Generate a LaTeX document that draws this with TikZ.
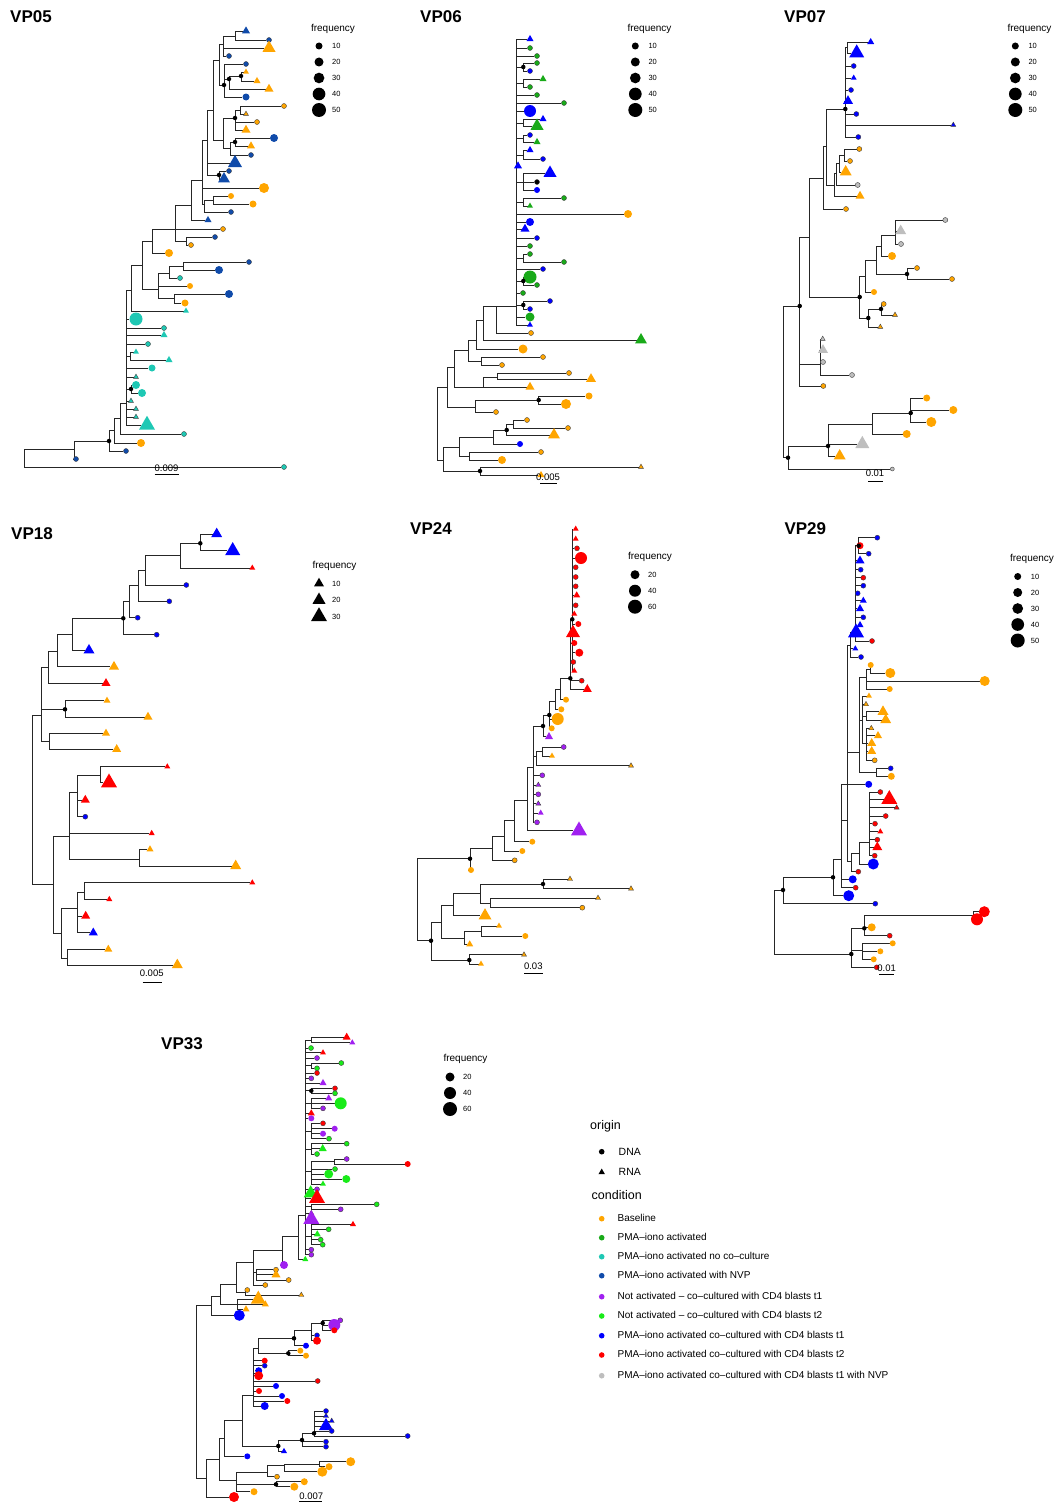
\documentclass[tikz,border=0pt]{standalone}
\usepackage{fontspec}
\setmainfont{Liberation Sans}
\usetikzlibrary{shapes.geometric,backgrounds}
\definecolor{cB}{RGB}{255,165,0}
\definecolor{cP}{RGB}{25,170,25}
\definecolor{cT}{RGB}{30,200,180}
\definecolor{cN}{RGB}{16,75,170}
\definecolor{cU}{RGB}{160,32,240}
\definecolor{cG}{RGB}{25,235,25}
\definecolor{cL}{RGB}{0,0,255}
\definecolor{cR}{RGB}{255,0,0}
\definecolor{cY}{RGB}{190,190,190}
\definecolor{cK}{RGB}{0,0,0}
\begin{document}
\begin{tikzpicture}[x=1pt,y=-1pt,
  br/.style={draw=black!85,line width=0.8pt},
  dna/.code={\pgfkeysalso{circle,inner sep=0pt,minimum size=#1pt}\ifdim#1pt<5.5pt\pgfkeysalso{draw=black!75,line width=0.4pt}\fi},
  rna/.code={\pgfkeysalso{regular polygon,regular polygon sides=3,inner sep=0pt,minimum size=1.155*#1pt}\ifdim#1pt<5.5pt\pgfkeysalso{draw=black!75,line width=0.4pt}\fi},
  bs/.style={circle,fill=black,inner sep=0pt,minimum size=4.5pt},
  ttl/.style={font=\bfseries\fontsize{17}{20}\selectfont,anchor=west,inner sep=0pt},
  lgt/.style={font=\fontsize{10}{12}\selectfont,anchor=mid,inner sep=0pt},
  lgn/.style={font=\fontsize{7.5}{9}\selectfont,anchor=west,inner sep=0pt},
  sct/.style={font=\fontsize{9.5}{11}\selectfont,inner sep=0pt},
  sbar/.style={draw=black,line width=0.8pt},
  lgh/.style={font=\fontsize{12.5}{15}\selectfont,anchor=mid west,inner sep=0pt},
  lgo/.style={font=\fontsize{10.5}{13}\selectfont,anchor=west,inner sep=0pt},
  lgc/.style={font=\fontsize{10}{12}\selectfont,anchor=mid west,inner sep=0pt}]
\useasboundingbox (0,0) rectangle (1058,1504);

\node[ttl] (ta) at (10,16.5) {VP05};
\node[ttl] (tb) at (420,16.5) {VP06};
\node[ttl] (tc) at (784,16.5) {VP07};
\node[ttl] (td) at (11,533.5) {VP18};
\node[ttl] (te) at (410,528.5) {VP24};
\node[ttl] (tf) at (784.3,528.5) {VP29};
\node[ttl] (tg) at (161,1044) {VP33};

\foreach \n/\x/\y in {aR/24/458,aN1/74/449,aN2/109/441,aN3/114/430,aN4/120/418,aN5/126/403,aN6/131/290,aN7/130/356,aN8/131/389,aN9/142/265,aN10/152/241,aN11/158/289,aN12/169/273,aN13/174.3/298,aN14/183.7/266,aN15/175/229,aN16/191/205,aN17/186/241,aN18/202/180,aN19/207/140,aN20/204/204,aN21/213/200,aN22/213/110,aN23/219/175,aN24/219/60,aN25/223/140,aN26/223/44,aN27/224/85,aN28/235/36,aN29/229/79,aN30/241/76,aN31/235/118,aN32/230/148,aN33/240/110,aN34/235/142,
  bR/437.7/430,bA/447.3/387,bB/443/460,bC/459.3/447,bD/480/471,bE/493.3/437,bF/469.3/456,bG/506.7/430,bH/513.3/424,bI/454.7/367,bJ/475.3/407,bK/538.7/400,bL/468/350,bM/483.3/387,bN/497.3/377,bO/476.7/340,bP/481.3/361,bQ/483.3/320,bS/496.7/306,bCm/516.7/306,bc1/523.3/67,bc2/523.3/83,bc3/523.3/123,bc4/523.3/138,bc5/523.3/155,bc6/523.3/182,bc7/523.3/202,bc8/523.3/258,bc9/523.3/281,bc10/523.3/305,
  cR/783.3/380,cA/799.7/306,cB/788/457.7,cC/828/446,cD/872.7/424,cF/910.7/413,cG/809.3/237,cI/820/364,cJ/823.7/178,cL/826.7/146,cM/845.3/109,cN1/834/185,cN2/836.7/173,cN3/839.3/163,cN4/844.3/155,cN5/847.7/47,cK/859.7/297,cP/865.7/276,cQ/868.3/318,cQ2/881/309,cS/876.3/260,cT/881.3/246,cU/907/274,cV/895.3/235,
  dR/32.7/800,dA/41.3/715.3,dB/53.3/884.7,dC/48.3/667.7,dD/65/709.3,dE/49.3/741.3,dF/57.7/651,dG/72.7/634,dH/123.3/618.3,dI/129/601.7,dJ/138.3/585.3,dK/145.7/570,dL/180.3/555.7,dM/200.3/543.3,dN/69.7/836,dO/61.7/933.3,dP/77.3/792.3,dQ/139.3/859,dS/100.3/775.7,dT/77.7/908.3,dU/67.3/958.3,dV/84.7/892.3,
  eR/417/900,eA/470/858.7,eB/431/940.7,eC/492/848.3,eD/504.7/836,eE/514/820,eF/527.3/800,eG/533.3/767.3,eH/543/726,eI/536/756,eJ/542/751,eK/549.3/715,eL/555.7/701.7,eM/560/689,eRd/570.3/678.3,eCm/572.3/619.3,eN/441/922,eP/453/905.3,eS/480.7/893.3,eT/543/884,eU/490.3/903.3,eQ/464/938.3,eV/481.3/931.3,eO/469.3/960,
  fR/774.7/922,fA/783/890,fB/851.3/954,fC/833/877.3,fD/841/859.3,fE/847.3/820,fBl/850.7/645,fBc/855.3/632.7,fB2/858.7/545.7,fOr/859.3/752.7,fO1/866.7/677,fO1a/870/669,fO3/862.7/720,fO3a/866/716,fO3b/866/743,fO2/876.3/772.3,fRc/851.7/861.7,fRd/859.7/853.3,fRd2/869.3/842.7,fF/864.3/928.3,fH/973/915.3,fG/862/950,
  gR/196.7/1400,gA/211.7/1305,gB/206/1478.3,gC/220/1296,gD/236/1284,gE/237.7/1304,gDd/245/1292,gF/253.3/1262,gG/282.3/1250.7,gH/256/1272,gCb/298/1236.7,gCm/305.3/1215,gs1/311/1040,gs2/311/1065.5,gs3/311.3/1090.8,gs4/311.3/1103.3,gs5/311.3/1131,gs6/311.3/1149,gs7/311.3/1171.5,gs7a/334.7/1161.5,gs8/311.3/1206.8,gs9/311.3/1236.8,gI/219.3/1459.3,gJ/224.7/1438.3,gK/236.3/1480.7,gL/242/1420,gM/253.3/1395,gM2/256/1373,gN/278.3/1446,gO/302/1440,gP/314/1433.3,gQ/258.3/1348.3,gS/294/1338.3,gT/288.3/1353.3,gU/311/1330,gV/322.7/1323,gW/267/1472.7,gX/276/1484.3,gY/284/1465,gZ/319.3/1464}
  \coordinate (\n) at (\x,\y);

\foreach \n/\x/\y/\col/\sh/\sz in {a1/246/31/cN/rna/8,a2/269/40/cN/dna/5,a3/269/48/cB/rna/13,a4/229/56/cN/dna/5,a5/246/64/cN/dna/5,a6/246/72/cB/rna/6,a7/257/81/cB/rna/7,a8/269/89/cB/rna/9,a9/246/97/cN/dna/7,a10/284/106/cB/dna/5,a11/246/114/cB/rna/5,a12/257/122/cB/dna/5,a13/246/130/cB/rna/9,a14/274/138/cN/dna/8,a15/251/146/cB/rna/8,a16/251/155/cN/dna/5,a17/235/163/cN/rna/14,a18/229/171/cN/dna/5,a19/224/179/cN/rna/12,a20/264/188/cB/dna/10,a21/231/196/cB/dna/6,a22/253/204/cB/dna/7,a23/231/212/cN/dna/5,a24/208/220/cN/rna/7,a25/223/229/cB/dna/5,a26/215/237/cN/dna/5,a27/191/245/cB/dna/5,a28/169/253/cB/dna/8,a29/249/262/cN/dna/5,a30/219/270/cN/dna/8,a31/180/278/cT/dna/5,a32/190/286/cB/dna/6,a33/229/294/cN/dna/8,a34/185/303/cB/dna/7,a35/186/311/cT/rna/6,a36/136/319/cT/dna/13,a37/164/328/cT/dna/5,a38/164/335/cT/rna/7,a39/148/344/cT/dna/5,a40/136/352/cT/rna/6,a41/169/360/cT/rna/7,a42/152/368/cT/dna/7,a43/136/377/cT/rna/5,a44/136/385/cT/dna/8,a45/142/393/cT/dna/8,a46/131/401/cT/rna/5,a47/136/409/cT/rna/5,a48/136/417/cT/rna/5,a49/147/425/cT/rna/16,a50/184/434/cT/dna/5,a51/141/443/cB/dna/8,a52/126/451/cN/dna/5,a53/76/459/cN/dna/5,a54/284/467/cT/dna/5,
  b1/530/39/cL/rna/7,b2/530/48/cP/dna/5,b3/537/56/cP/dna/5,b4/537/63/cP/dna/5,b5/530/71/cL/dna/5,b6/543/79/cP/rna/7,b7/530/87/cP/dna/5,b8/537/95/cP/dna/5,b9/564/103/cP/dna/5,b10/530/111/cL/dna/12,b11/543/119/cL/rna/7,b12/537/126/cP/rna/13,b13/530/135/cL/dna/5,b14/537/142/cP/rna/7,b15/530/150/cL/rna/7,b16/543/159/cL/dna/5,b17/518/166/cL/rna/8,b18/550/173/cL/rna/13,b19/537/182/cK/dna/5,b20/537/190/cL/dna/6,b21/564/198/cP/dna/5,b22/530/206/cP/rna/6,b23/628/214/cB/dna/8,b24/530/222/cL/dna/8,b25/525/229/cL/rna/9,b26/537/238/cL/dna/5,b27/530/246/cP/dna/5,b28/530/254/cP/dna/5,b29/564/262/cP/dna/5,b30/543/269/cL/dna/5,b31/530/277/cP/dna/13,b32/537/285/cP/dna/5,b33/523/293/cP/dna/5,b34/550/301/cL/dna/5,b35/530/309/cL/dna/5,b36/530/317/cP/dna/9,b37/530/325/cL/rna/6,b38/531/333/cB/dna/5,b39/641/340/cP/rna/12,b40/523/349/cB/dna/9,b41/543/357/cB/dna/5,b42/502/365/cB/dna/5,b43/569/373/cB/dna/5,b44/591/379/cB/rna/10,b45/530/387/cB/rna/9,b46/589/396/cB/dna/7,b47/566/404/cB/dna/10,b48/496/412/cB/dna/5,b49/527/420/cB/dna/5,b50/568/428/cB/dna/5,b51/554/435/cB/rna/12,b52/520/444/cL/dna/6,b53/541/452/cB/dna/5,b54/502/460/cB/dna/8,b55/641/467/cB/rna/5,b56/541/475/cB/rna/7,
  c1/870.7/42/cL/rna/7,c2/856.7/53/cL/rna/15,c3/853.7/66/cL/dna/5,c4/853.7/78/cL/rna/6,c5/851/90/cL/dna/5,c6/848/101/cL/rna/10,c7/856.3/114/cL/dna/5,c8/953.3/125/cL/rna/5,c9/858.3/137/cL/dna/5,c10/859.3/149/cB/dna/5,c11/850/161/cB/dna/5,c12/845.7/172/cB/rna/12,c13/857.7/185/cY/dna/5,c14/860/196/cB/rna/9,c15/846/209/cB/dna/5,c16/945.3/220/cY/dna/5,c17/900.7/231/cY/rna/11,c18/901/244/cY/dna/5,c19/892/256/cB/dna/8,c20/917/268/cB/dna/5,c21/952/279/cB/dna/5,c22/874/292/cB/dna/6,c23/883.7/304/cB/dna/5,c24/895/315/cB/rna/5,c25/880.3/327/cB/rna/5,c26/822.7/339/cY/rna/5,c27/823/350/cY/rna/10,c28/823/362/cY/dna/5,c29/852/375/cY/dna/5,c30/823.3/386/cB/dna/5,c31/926.7/398/cB/dna/7,c32/953.3/410/cB/dna/8,c33/931.3/422/cB/dna/10,c34/906.7/434/cB/dna/8,c35/862.3/444/cY/rna/14,c36/839.7/456/cB/rna/12,c37/892.3/469/cY/dna/4,
  d1/216.7/534/cL/rna/11,d2/232.7/550.7/cL/rna/15,d3/252.3/568/cR/rna/6,d4/186.3/585/cL/dna/5,d5/169.3/601.3/cL/dna/5,d6/137.7/617.7/cL/dna/5,d7/156.7/634.7/cL/dna/5,d8/89/650.3/cL/rna/11,d9/114/666.7/cB/rna/10,d10/106/683.3/cR/rna/9,d11/107/700.7/cB/rna/7,d12/148/717/cB/rna/9,d13/106/733.3/cB/rna/8,d14/116.7/749.3/cB/rna/9,d15/167.3/766.7/cR/rna/6,d16/109/782.7/cR/rna/16,d17/85.3/800/cR/rna/9,d18/85.3/816.7/cL/dna/5,d19/151.7/833.3/cR/rna/6,d20/150/849.3/cB/rna/7,d21/235.7/866/cB/rna/11,d22/252.3/882.7/cR/rna/6,d23/109.3/899.3/cR/rna/6,d24/85.7/916/cR/rna/9,d25/93.3/932.7/cL/rna/9,d26/108.3/949.3/cB/rna/8,d27/177.3/965/cB/rna/11,
  e1/575.7/529/cR/rna/6,e2/575.7/539/cR/rna/6,e3/577/548.3/cR/dna/5,e4/581/558/cR/dna/12,e5/575.7/567.3/cR/dna/5,e6/575.7/577/cR/dna/5,e7/575.7/586.3/cR/dna/5,e8/576.7/595.3/cR/rna/7,e9/575.7/605.3/cR/dna/5,e10/574.3/614/cR/rna/6,e12/578.3/624/cR/dna/6,e13/573/633/cR/rna/14,e14/574.3/643/cR/dna/6,e15/579.3/652.7/cR/dna/8,e16/573.3/662/cR/dna/5,e17/574.3/671/cR/rna/6,e18/581.7/680.7/cR/dna/5,e19/587.3/689.3/cR/rna/9,e20/566/699.7/cB/dna/6,e21/561.3/709.3/cB/dna/6,e22/557.7/719/cB/dna/12,e23/551.7/728.3/cB/dna/6,e24/549/736.7/cU/rna/8,e25/563.7/747/cU/dna/5,e26/552/756/cB/rna/6,e27/631/765.7/cB/rna/5,e28/542.3/775.3/cU/dna/5,e29/538.3/785/cU/rna/5,e30/538.3/794.3/cU/dna/5,e31/538.3/803.7/cU/rna/5,e32/540.7/813/cU/rna/6,e33/537/822.3/cU/dna/5,e34/579/830.7/cU/rna/16,e35/532.3/841.7/cB/dna/6,e36/522.3/851/cB/dna/6,e37/514.7/860.3/cB/dna/5,e38/471/870/cB/dna/6,e39/570/879/cB/rna/5,e40/631/888.7/cB/rna/5,e41/598/898/cB/rna/5,e42/582.3/907.7/cB/dna/5,e43/485/915.7/cB/rna/13,e44/499/926/cB/rna/6,e45/525.3/936/cB/dna/6,e46/469.7/944.3/cB/rna/7,e47/524/954.7/cB/rna/5,e48/481/964/cB/rna/6,
  f1/877.3/537.7/cL/dna/5,f2/860/545.7/cR/dna/7,f3/868.7/553.7/cL/dna/5,f4/860/560.7/cL/rna/9,f5/860.7/569.7/cL/dna/5,f6/863.3/577.7/cR/dna/5,f7/863.3/585.7/cL/dna/5,f8/857.7/593.3/cL/dna/5,f9/863.3/600.7/cL/rna/7,f10/860/608.7/cL/rna/8,f11/863.3/617.3/cL/dna/5,f12/860/625/cL/rna/7,f13/856/632.7/cL/rna/16,f14/872/641/cR/dna/5,f15/855.3/648.7/cL/rna/6,f16/861/657/cL/dna/5,f17/870.7/665/cB/dna/6,f18/890.3/673/cB/dna/10,f19/984.7/681/cB/dna/10,f20/889.7/689/cB/dna/6,f21/869/696/cB/rna/6,f22/866/704.3/cB/rna/5,f23/883/711.7/cB/rna/11,f24/885.7/720/cB/rna/11,f25/871.3/728.3/cB/rna/5,f26/878/735.7/cB/rna/8,f27/871.7/743.3/cB/rna/9,f28/871.7/751.3/cB/rna/9,f29/874.7/760.3/cB/dna/5,f30/890.7/768.3/cL/dna/5,f31/891.3/776.3/cB/dna/7,f32/868.7/784.3/cL/dna/7,f33/880.3/792/cR/dna/5,f34/889.3/799.3/cR/rna/16,f35/896.7/807.7/cR/rna/5,f36/885.7/816/cR/dna/5,f37/875/823.7/cR/dna/5,f38/880.3/831.7/cR/rna/6,f39/877.3/839.7/cR/dna/5,f40/877.3/847.3/cR/rna/10,f41/874.7/855.7/cR/dna/5,f42/873.3/864/cL/dna/11,f43/858.3/871.7/cR/dna/5,f44/852.7/879.3/cL/dna/8,f45/855.7/887.7/cR/dna/5,f46/848.7/895.7/cL/dna/11,f47/875.3/903.7/cL/dna/5,f48/984.3/911.7/cR/dna/11,f49/977/919.3/cR/dna/12,f50/871.7/927.3/cB/dna/8,f51/889.7/935.7/cR/dna/5,f52/892.7/943.3/cB/dna/6,f53/880.3/951.3/cB/dna/6,f54/873.7/959.3/cB/dna/6,f55/876.7/967.3/cR/dna/5,
  g1/346.7/1037.3/cR/rna/8,g2/352.3/1042.7/cU/rna/6,g3/311/1048/cG/dna/5,g4/323/1052.7/cR/rna/6,g5/317/1058/cU/dna/5,g6/341.3/1063/cG/dna/5,g7/317/1068.3/cG/dna/5,g8/317/1073/cR/dna/5,g9/311.3/1078.3/cU/dna/5,g10/323/1083/cU/rna/7,g11/335/1088.3/cR/dna/5,g12/335/1093.3/cG/dna/5,g13/328.7/1098.3/cU/rna/7,g14/340.7/1103.3/cG/dna/12,g15/323/1108.3/cU/dna/5,g16/311.3/1113.3/cR/rna/7,g17/311.3/1118.3/cU/dna/6,g18/323/1123.3/cR/dna/5,g19/334.7/1128.7/cU/dna/6,g20/323/1133.7/cU/dna/6,g21/329/1138.7/cG/dna/5,g22/346.7/1143.7/cG/dna/5,g23/322.7/1148.7/cG/rna/8,g24/317/1154/cG/dna/5,g25/346.7/1159/cU/dna/5,g26/407.7/1164/cR/dna/6,g27/335/1169/cG/dna/5,g28/328.7/1174/cG/dna/9,g29/346.3/1179/cG/dna/8,g30/323/1184/cG/rna/6,g31/317/1189.3/cU/dna/5,g32/310.7/1193.3/cG/rna/14,g33/317/1198.3/cR/rna/16,g34/376.7/1204.3/cG/dna/5,g35/340.7/1209.3/cU/dna/5,g36/311.3/1213.3/cR/rna/5,g37/311.3/1219.3/cU/rna/16,g38/353/1224.3/cR/rna/6,g39/328.7/1229.3/cG/dna/5,g40/317.3/1234.3/cG/rna/7,g41/320.7/1239.7/cG/dna/5,g42/322.7/1244.7/cG/dna/5,g43/311.3/1249.7/cU/dna/5,g44/311.3/1254.7/cU/dna/5,g45/305.3/1259.3/cG/rna/6,g46/284/1265/cU/dna/8,g47/276/1269.7/cB/dna/5,g48/276/1274.7/cB/rna/9,g49/288.7/1280/cB/dna/5,g50/265.3/1285/cB/dna/5,g51/247.3/1290/cB/dna/5,g52/301.3/1295/cB/rna/5,g53/258.3/1299.3/cB/rna/15,g54/265.3/1304.3/cB/rna/7,g55/246/1309.3/cB/rna/7,g56/239.3/1315.3/cL/dna/11,g57/340.3/1320.3/cU/dna/5,g58/334.3/1325/cU/dna/12,g59/334.3/1330.3/cR/dna/6,g60/317/1335.3/cL/dna/5,g61/317/1340.7/cR/dna/8,g62/306/1345.7/cL/dna/6,g63/300.3/1350.7/cB/dna/6,g64/306/1355.7/cB/dna/6,g65/264.7/1360.7/cR/dna/6,g66/264.7/1365.7/cL/dna/5,g67/258.7/1370.7/cL/dna/7,g68/258.7/1375.7/cR/dna/9,g69/317.7/1381/cR/dna/5,g70/276/1386/cL/dna/6,g71/259/1391/cR/dna/6,g72/282/1396/cL/dna/6,g73/287.3/1401/cR/dna/6,g74/264.7/1406/cL/dna/8,g75/326/1411/cL/dna/5,g76/326/1416/cL/rna/5,g77/331.7/1421/cL/rna/5,g78/326/1426/cL/rna/14,g79/331.7/1431/cL/dna/5,g80/407.7/1436/cL/dna/5,g81/326/1441.7/cL/dna/5,g82/326/1446.7/cL/dna/5,g83/284/1451.3/cL/rna/6,g84/247.3/1456.3/cL/dna/6,g85/350.7/1461.7/cB/dna/9,g86/329/1466.7/cB/dna/7,g87/322.3/1471.7/cB/dna/10,g88/277/1476.7/cB/dna/5,g89/304.3/1481.7/cB/dna/7,g90/294.3/1486.7/cB/dna/8,g91/254/1491.7/cB/dna/7,g92/234/1497/cR/dna/10}
  \node[\sh=\sz,fill=\col] (\n) at (\x,\y) {};

\foreach \n in {aN2,aN8,aN23,aN27,aN29,aN30,aN31,aN34,bc1,bc9,bc10,bG,bK,bD,cA,cB,cC,cF,cM,cK,cQ,cQ2,cU,dM,dH,dD,eA,eB,eO,eT,eH,eK,eRd,eCm,fA,fC,fB,fF,fB2,gs3,gN,gO,gP,gS,gT,gX,gV}
  \node[bs] (k\n) at (\n) {};

\foreach \n/\x/\y/\xa/\xb/\yb/\t in {sa/166.5/468.5/154.5/178.5/474.5/0.009,sb/548/477/540/557/483/0.005,sc/875/473/868.3/882.7/481/0.01,sd/151.7/973.3/142.7/161.7/982.7/0.005,se/533.3/966.7/524/542.7/973.3/0.03,sf/886.7/968.3/879.3/894/974/0.01,sg/311.3/1496.7/299/321.7/1501.7/0.007}{
  \node[sct] (\n) at (\x,\y) {\t};
  \coordinate (\n1) at (\xa,\yb);
  \coordinate (\n2) at (\xb,\yb);
  \draw[sbar] (\n1) -- (\n2);}

\foreach \lx/\ly/\cx/\p in {333/28.5/319/a,649.5/28.5/635.3/b,1029.5/28.5/1015.3/c,1032/559/1017.7/f}{
  \node[lgt] (\p ft) at (\lx,\ly) {frequency};
  \foreach \v/\sz [count=\i] in {10/7,20/9,30/10.7,40/12.7,50/14}{
    \node[dna=\sz,fill=black] (\p fd\i) at (\cx,\ly+1.5+16*\i) {};
    \node[lgn] (\p fl\i) at (\cx+13,\ly+1.5+16*\i) {\v};}}
\foreach \lx/\ly/\cx/\p in {650/556.7/635/e,465.5/1059/450/g}{
  \node[lgt] (\p ft) at (\lx,\ly) {frequency};
  \foreach \v/\sz [count=\i] in {20/9,40/12,60/14}{
    \node[dna=\sz,fill=black] (\p fd\i) at (\cx,\ly+2+16*\i) {};
    \node[lgn] (\p fl\i) at (\cx+13,\ly+2+16*\i) {\v};}}
\node[lgt] (dft) at (334.5,566) {frequency};
\foreach \v/\sz [count=\i] in {10/10,20/13,30/16}{
  \node[rna=\sz,fill=black] (dfd\i) at (319,567+16.5*\i) {};
  \node[lgn] (dfl\i) at (332,567+16.5*\i) {\v};}

\node[lgh] (orig) at (590,1127.3) {origin};
\node[dna=5.6,fill=black] (odna) at (601.7,1151.7) {};
\node[lgo] (odnal) at (618.5,1151.7) {DNA};
\node[rna=6.5,fill=black] (orna) at (601.7,1172.3) {};
\node[lgo] (ornal) at (618.5,1172.3) {RNA};
\node[lgh] (cond) at (591.5,1197.3) {condition};
\foreach \col/\yy/\txt [count=\i] in {cB/1218.7/Baseline,cP/1237.7/PMA–iono activated,cT/1256.7/PMA–iono activated no co–culture,cN/1275.7/PMA–iono activated with NVP,cU/1296.7/Not activated – co–cultured with CD4 blasts t1,cG/1316/Not activated – co–cultured with CD4 blasts t2,cL/1335.7/PMA–iono activated co–cultured with CD4 blasts t1,cR/1355/PMA–iono activated co–cultured with CD4 blasts t2,cY/1375.7/PMA–iono activated co–cultured with CD4 blasts t1 with NVP}{
  \node[dna=5.6,fill=\col] (lc\i) at (601.7,\yy) {};
  \node[lgc] (lt\i) at (617.5,\yy) {\txt};}

\begin{pgfonlayer}{background}
\fill[white] (0,0) rectangle (1058,1504);
\foreach \p/\q in {aR/aN1,aR/a54,aN1/aN2,aN1/a53,aN2/aN3,aN2/a52,aN3/aN4,aN3/a51,aN4/aN5,aN4/a50,aN5/aN6,aN5/a36,aN5/a37,aN5/a38,aN5/a39,aN5/aN7,aN5/a42,aN5/a43,aN5/aN8,aN5/a46,aN5/a47,aN5/a48,aN5/a49,aN7/a40,aN7/a41,aN8/a44,aN8/a45,aN6/aN9,aN6/a35,aN9/aN10,aN9/aN11,aN11/aN12,aN11/a32,aN11/aN13,aN12/aN14,aN12/a31,aN14/a29,aN14/a30,aN13/a33,aN13/a34,aN10/aN15,aN10/a28,aN15/aN16,aN15/a25,aN15/aN17,aN17/a26,aN17/a27,aN16/aN18,aN16/a24,aN18/aN19,aN18/a20,aN18/aN20,aN20/aN21,aN20/a23,aN21/a21,aN21/a22,aN19/aN22,aN19/a17,aN19/aN23,aN23/a18,aN23/a19,aN22/aN24,aN22/aN25,aN24/aN26,aN24/aN27,aN26/aN28,aN26/a3,aN26/a4,aN28/a1,aN28/a2,aN27/aN29,aN27/a9,aN27/a5,aN29/aN30,aN29/a8,aN30/a6,aN30/a7,aN25/aN31,aN25/aN32,aN31/aN33,aN31/a12,aN31/a13,aN33/a10,aN33/a11,aN32/aN34,aN32/a16,aN34/a14,aN34/a15,
  bR/bA,bR/bB,bB/bC,bB/bD,bD/b55,bD/b56,bC/bE,bC/bF,bE/bG,bE/b52,bG/bH,bG/b51,bH/b49,bH/b50,bF/b53,bF/b54,bA/bI,bA/bJ,bJ/bK,bJ/b48,bK/b46,bK/b47,bI/bL,bI/bM,bM/bN,bM/b45,bN/b43,bN/b44,bL/bO,bL/bP,bP/b41,bP/b42,bO/bQ,bO/b40,bQ/bS,bQ/b39,bS/bCm,bS/b38,bCm/b1,bCm/b2,bCm/b3,bCm/bc1,bCm/bc2,bCm/b8,bCm/b9,bCm/b10,bCm/bc3,bCm/bc4,bCm/bc5,bCm/b17,bCm/bc6,bCm/bc7,bCm/b23,bCm/b24,bCm/b25,bCm/b26,bCm/b27,bCm/bc8,bCm/b30,bCm/bc9,bCm/b33,bCm/bc10,bCm/b36,bCm/b37,bc1/b4,bc1/b5,bc2/b6,bc2/b7,bc3/b11,bc3/b12,bc4/b13,bc4/b14,bc5/b15,bc5/b16,bc6/b18,bc6/b19,bc6/b20,bc7/b21,bc7/b22,bc8/b28,bc8/b29,bc9/b31,bc9/b32,bc10/b34,bc10/b35,
  cR/cA,cR/cB,cB/cC,cB/c37,cC/cD,cC/c35,cC/c36,cD/cF,cD/c34,cF/c31,cF/c32,cF/c33,cA/cG,cA/cI,cA/c30,cI/c26,cI/c27,cI/c28,cI/c29,cG/cJ,cG/cK,cJ/cL,cJ/c15,cL/cM,cL/cN1,cN1/cN2,cN1/c14,cN2/cN3,cN2/c13,cN3/cN4,cN3/c12,cN4/c10,cN4/c11,cM/cN5,cM/c3,cM/c4,cM/c5,cM/c6,cM/c7,cM/c8,cM/c9,cN5/c1,cN5/c2,cK/cP,cK/cQ,cQ/cQ2,cQ/c25,cQ2/c23,cQ2/c24,cP/cS,cP/c22,cS/cT,cS/cU,cU/c20,cU/c21,cT/cV,cT/c19,cV/c16,cV/c17,cV/c18,
  dR/dA,dR/dB,dA/dC,dA/dD,dA/dE,dC/dF,dC/d10,dF/dG,dF/d9,dG/dH,dG/d8,dH/dI,dH/d7,dI/dJ,dI/d6,dJ/dK,dJ/d5,dK/dL,dK/d4,dL/dM,dL/d3,dM/d1,dM/d2,dD/d11,dD/d12,dE/d13,dE/d14,dB/dN,dB/dO,dN/dP,dN/d19,dN/dQ,dP/dS,dP/d17,dP/d18,dS/d15,dS/d16,dQ/d20,dQ/d21,dO/dT,dO/dU,dT/dV,dT/d24,dT/d25,dV/d22,dV/d23,dU/d26,dU/d27,
  eR/eA,eR/eB,eA/eC,eA/e38,eC/eD,eC/e37,eD/eE,eD/e36,eE/eF,eE/e35,eF/eG,eF/e34,eG/eH,eG/eI,eG/e28,eG/e29,eG/e30,eG/e31,eG/e32,eG/e33,eI/eJ,eI/e27,eJ/e25,eJ/e26,eH/eK,eH/e24,eK/eL,eK/e22,eK/e23,eL/eM,eL/e21,eM/eRd,eM/e20,eRd/eCm,eRd/e18,eRd/e19,eCm/e1,eCm/e2,eCm/e3,eCm/e4,eCm/e5,eCm/e6,eCm/e7,eCm/e8,eCm/e9,eCm/e10,eCm/e12,eCm/e13,eCm/e14,eCm/e15,eCm/e16,eCm/e17,eB/eN,eB/eO,eN/eP,eN/eQ,eP/eS,eP/e43,eS/eT,eS/eU,eT/e39,eT/e40,eU/e41,eU/e42,eQ/eV,eQ/e46,eV/e44,eV/e45,eO/e47,eO/e48,
  fR/fA,fR/fB,fA/fC,fA/f47,fC/fD,fC/f46,fD/fE,fD/f32,fD/f44,fD/f45,fE/fBl,fE/fOr,fE/fRc,fBl/fBc,fBl/f15,fBl/f16,fBc/fB2,fBc/f4,fBc/f5,fBc/f6,fBc/f7,fBc/f8,fBc/f9,fBc/f10,fBc/f11,fBc/f12,fBc/f13,fBc/f14,fB2/f1,fB2/f2,fB2/f3,fOr/fO1,fOr/fO3,fOr/fO2,fO1/fO1a,fO1/f19,fO1/f20,fO1a/f17,fO1a/f18,fO3/f21,fO3/f22,fO3/fO3a,fO3/fO3b,fO3a/f23,fO3a/f24,fO3b/f25,fO3b/f26,fO3b/f27,fO3b/f28,fO3b/f29,fO2/f30,fO2/f31,fRc/fRd,fRc/f43,fRd/fRd2,fRd/f42,fRd2/f33,fRd2/f34,fRd2/f35,fRd2/f36,fRd2/f37,fRd2/f38,fRd2/f39,fRd2/f40,fRd2/f41,fB/fF,fB/fG,fB/f55,fF/fH,fF/f50,fF/f51,fH/f48,fH/f49,fG/f52,fG/f53,fG/f54,
  gR/gA,gR/gB,gA/gC,gA/g56,gC/gD,gC/gE,gE/g53,gE/g54,gE/g55,gD/gF,gD/gDd,gDd/g51,gDd/g52,gF/gG,gF/gH,gF/g50,gH/g47,gH/g48,gH/g49,gG/gCb,gG/g46,gCb/gCm,gCb/g45,gCm/gs1,gCm/g3,gCm/g4,gCm/g5,gCm/gs2,gCm/g8,gCm/g9,gCm/g10,gCm/gs3,gCm/gs4,gCm/g16,gCm/g17,gCm/gs5,gCm/gs6,gCm/gs7,gCm/g31,gCm/g32,gCm/g33,gCm/gs8,gCm/g36,gCm/g37,gCm/gs9,gCm/g43,gCm/g44,gs1/g1,gs1/g2,gs2/g6,gs2/g7,gs3/g11,gs3/g12,gs4/g13,gs4/g14,gs4/g15,gs5/g18,gs5/g19,gs5/g20,gs5/g21,gs6/g22,gs6/g23,gs6/g24,gs7/gs7a,gs7/g27,gs7/g28,gs7/g29,gs7/g30,gs7a/g25,gs7a/g26,gs8/g34,gs8/g35,gs9/g38,gs9/g39,gs9/g40,gs9/g41,gs9/g42,gB/gI,gB/g92,gI/gJ,gI/gK,gJ/gL,gJ/g84,gL/gM,gL/gN,gN/gO,gN/g83,gO/gP,gO/g81,gO/g82,gP/g75,gP/g76,gP/g77,gP/g78,gP/g79,gP/g80,gM/gQ,gM/g65,gM/g66,gM/gM2,gM/g69,gM/g70,gM/g71,gM/g72,gM/g73,gM/g74,gM2/g67,gM2/g68,gQ/gS,gQ/gT,gT/g63,gT/g64,gS/gU,gS/g62,gU/gV,gU/g60,gU/g61,gV/g57,gV/g58,gV/g59,gK/gW,gK/gX,gK/g91,gW/gY,gW/g88,gY/gZ,gY/g87,gZ/g85,gZ/g86,gX/g89,gX/g90}
  \draw[br] (\p) |- (\q);
\end{pgfonlayer}
\end{tikzpicture}
\end{document}
